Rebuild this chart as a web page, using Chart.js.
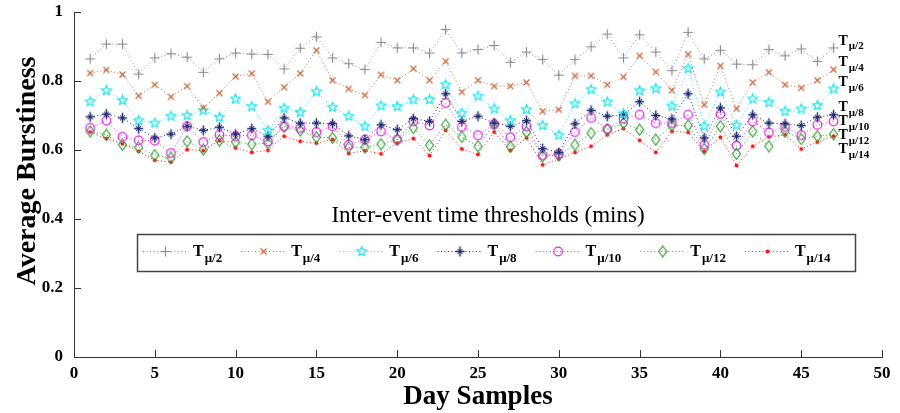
<!DOCTYPE html>
<html>
<head>
<meta charset="utf-8">
<title>Average Burstiness</title>
<script src="https://cdn.jsdelivr.net/npm/chart.js@4.4.1/dist/chart.umd.min.js"></script>
<style>
  html, body { margin: 0; padding: 0; background: #fff; }
</style>
</head>
<body>
<canvas id="chart" width="900" height="413"></canvas>
<script>
// day samples on the x axis
var days = [1, 2, 3, 4, 5, 6, 7, 8, 9, 10, 11, 12, 13, 14, 15, 16, 17, 18, 19, 20,
  21, 22, 23, 24, 25, 26, 27, 28, 29, 30, 31, 32, 33, 34, 35, 36, 37, 38, 39, 40,
  41, 42, 43, 44, 45, 46, 47];

// subscripts of the thresholds T
var thresholds = ['\u03bc/2', '\u03bc/4', '\u03bc/6', '\u03bc/8', '\u03bc/10', '\u03bc/12', '\u03bc/14'];

var tMu2 = [0.864, 0.907, 0.907, 0.820, 0.867, 0.879, 0.869, 0.825, 0.864, 0.881, 0.878, 0.877, 0.835, 0.895, 0.928, 0.867,
  0.850, 0.833, 0.912, 0.896, 0.896, 0.881, 0.949, 0.881, 0.891, 0.903, 0.854, 0.884, 0.862, 0.817, 0.862, 0.899,
  0.936, 0.867, 0.934, 0.884, 0.830, 0.941, 0.864, 0.889, 0.849, 0.847, 0.891, 0.873, 0.893, 0.857, 0.896];
var tMu4 = [0.823, 0.832, 0.819, 0.757, 0.789, 0.754, 0.785, 0.722, 0.765, 0.813, 0.822, 0.740, 0.782, 0.822, 0.889, 0.802,
  0.777, 0.759, 0.818, 0.802, 0.836, 0.802, 0.857, 0.768, 0.802, 0.785, 0.785, 0.796, 0.712, 0.717, 0.815, 0.815,
  0.789, 0.812, 0.873, 0.826, 0.773, 0.878, 0.731, 0.844, 0.720, 0.796, 0.825, 0.789, 0.780, 0.802, 0.833];
var tMu6 = [0.740, 0.772, 0.744, 0.685, 0.678, 0.698, 0.700, 0.715, 0.695, 0.748, 0.726, 0.656, 0.721, 0.709, 0.769, 0.724,
  0.698, 0.669, 0.728, 0.726, 0.746, 0.746, 0.789, 0.707, 0.756, 0.719, 0.685, 0.717, 0.671, 0.643, 0.734, 0.775,
  0.739, 0.705, 0.772, 0.778, 0.727, 0.836, 0.669, 0.768, 0.672, 0.748, 0.738, 0.712, 0.719, 0.729, 0.777];
var tMu8 = [0.696, 0.704, 0.693, 0.662, 0.635, 0.646, 0.669, 0.657, 0.666, 0.646, 0.662, 0.640, 0.693, 0.678, 0.678, 0.676,
  0.641, 0.630, 0.673, 0.659, 0.691, 0.683, 0.763, 0.683, 0.698, 0.678, 0.669, 0.685, 0.604, 0.593, 0.676, 0.715,
  0.698, 0.702, 0.740, 0.700, 0.690, 0.763, 0.635, 0.722, 0.640, 0.702, 0.678, 0.676, 0.671, 0.695, 0.702];
var tMu10 = [0.664, 0.685, 0.638, 0.628, 0.627, 0.591, 0.669, 0.623, 0.644, 0.640, 0.643, 0.625, 0.669, 0.664, 0.652, 0.669,
  0.615, 0.630, 0.654, 0.630, 0.683, 0.671, 0.736, 0.667, 0.643, 0.675, 0.637, 0.669, 0.585, 0.589, 0.652, 0.693,
  0.661, 0.691, 0.702, 0.678, 0.678, 0.702, 0.615, 0.704, 0.613, 0.683, 0.651, 0.667, 0.643, 0.673, 0.683];
var tMu12 = [0.654, 0.644, 0.615, 0.608, 0.585, 0.577, 0.625, 0.601, 0.627, 0.623, 0.617, 0.620, 0.667, 0.657, 0.637, 0.635,
  0.608, 0.608, 0.617, 0.630, 0.664, 0.614, 0.673, 0.638, 0.611, 0.675, 0.609, 0.652, 0.582, 0.585, 0.615, 0.649,
  0.659, 0.678, 0.659, 0.630, 0.671, 0.671, 0.603, 0.669, 0.589, 0.654, 0.611, 0.654, 0.632, 0.640, 0.646];
var tMu14 = [0.652, 0.633, 0.618, 0.596, 0.570, 0.565, 0.601, 0.598, 0.627, 0.606, 0.593, 0.599, 0.640, 0.625, 0.620, 0.630,
  0.590, 0.598, 0.589, 0.620, 0.633, 0.584, 0.657, 0.603, 0.587, 0.652, 0.599, 0.635, 0.557, 0.574, 0.593, 0.611,
  0.644, 0.662, 0.628, 0.593, 0.654, 0.651, 0.596, 0.637, 0.555, 0.611, 0.638, 0.644, 0.603, 0.623, 0.640];

var xTicks = [0, 5, 10, 15, 20, 25, 30, 35, 40, 45, 50];
var yTicks = [0, 0.2, 0.4, 0.6, 0.8, 1];

var series = [tMu2, tMu4, tMu6, tMu8, tMu10, tMu12, tMu14];
var colors = ['#8c8c8c', '#c8693e', '#1ee8f0', '#1f2c6e', '#e022e0', '#35a035', '#ff1414'];
var serif = '"Liberation Serif", "Times New Roman", serif';

// marker images, like matlab's + x p * o d .
function markerCanvas(kind, color) {
  var c = document.createElement('canvas');
  c.width = 13; c.height = 13;
  var g = c.getContext('2d');
  g.strokeStyle = color; g.fillStyle = color; g.lineWidth = 1.2;
  g.translate(6.5, 6.5);
  g.beginPath();
  if (kind === 'plus') {
    g.moveTo(-5, 0); g.lineTo(5, 0); g.moveTo(0, -5); g.lineTo(0, 5);
    g.stroke();
  } else if (kind === 'x') {
    g.moveTo(-3, -3); g.lineTo(3, 3); g.moveTo(3, -3); g.lineTo(-3, 3);
    g.stroke();
  } else if (kind === 'pent') {
    for (var i = 0; i < 10; i++) {
      var r = i % 2 ? 2.2 : 5;
      var a = -Math.PI / 2 + i * Math.PI / 5;
      if (i === 0) g.moveTo(r * Math.cos(a), r * Math.sin(a));
      else g.lineTo(r * Math.cos(a), r * Math.sin(a));
    }
    g.closePath();
    g.stroke();
  } else if (kind === 'star') {
    g.lineWidth = 1.5;
    g.moveTo(-4.5, 0); g.lineTo(4.5, 0); g.moveTo(0, -5); g.lineTo(0, 5);
    g.stroke();
    g.beginPath();
    g.lineWidth = 1;
    g.moveTo(-2.5, -2.5); g.lineTo(2.5, 2.5); g.moveTo(2.5, -2.5); g.lineTo(-2.5, 2.5);
    g.stroke();
  } else if (kind === 'circle') {
    g.arc(0, 0, 4.3, 0, Math.PI * 2);
    g.stroke();
  } else if (kind === 'diamond') {
    g.moveTo(0, -5.5); g.lineTo(4, 0); g.lineTo(0, 5.5); g.lineTo(-4, 0);
    g.closePath();
    g.stroke();
  } else {
    g.arc(0, 0, 2, 0, Math.PI * 2);
    g.fill();
  }
  return c;
}

var kinds = ['plus', 'x', 'pent', 'star', 'circle', 'diamond', 'dot'];
var markers = kinds.map(function (k, i) { return markerCanvas(k, colors[i]); });

var datasets = series.map(function (vals, k) {
  return {
    label: 'T' + thresholds[k],
    data: days.map(function (d, i) { return { x: d, y: vals[i] }; }),
    borderColor: colors[k],
    backgroundColor: colors[k],
    borderWidth: 1,
    borderDash: [1, 2.5],
    pointStyle: markers[k],
    pointRadius: 4,
    tension: 0
  };
});

// T with a subscript
function drawT(ctx, x, yMid, sub, big, small) {
  ctx.textAlign = 'left';
  ctx.textBaseline = 'alphabetic';
  ctx.fillStyle = '#000';
  ctx.font = 'bold ' + big + 'px ' + serif;
  ctx.fillText('T', x, yMid + big * 0.33);
  var w = ctx.measureText('T').width;
  ctx.font = 'bold ' + small + 'px ' + serif;
  ctx.fillText(sub, x + w + 1, yMid + big * 0.33 + small * 0.45);
  return w + 1 + ctx.measureText(sub).width;
}

var extras = {
  id: 'extras',
  afterDraw: function (chart) {
    var ctx = chart.ctx;
    var xs = chart.scales.x, ys = chart.scales.y;
    var area = chart.chartArea;
    ctx.save();

    // inward tick marks
    ctx.strokeStyle = '#333';
    ctx.lineWidth = 1;
    ctx.beginPath();
    xTicks.forEach(function (v) {
      var px = Math.round(xs.getPixelForValue(v)) + 0.5;
      ctx.moveTo(px, area.bottom); ctx.lineTo(px, area.bottom - 7);
    });
    yTicks.forEach(function (v) {
      var py = Math.round(ys.getPixelForValue(v)) + 0.5;
      ctx.moveTo(area.left, py); ctx.lineTo(area.left + 7, py);
    });
    ctx.stroke();

    // y axis title, sits a bit above the middle like the original
    ctx.save();
    ctx.translate(28, 171);
    ctx.rotate(-Math.PI / 2);
    ctx.font = 'bold 28px ' + serif;
    ctx.fillStyle = '#000';
    ctx.textAlign = 'center';
    ctx.textBaseline = 'middle';
    ctx.fillText('Average Burstiness', 0, 0);
    ctx.restore();

    // labels at the end of each line
    var prev = -100;
    datasets.forEach(function (ds, k) {
      var last = ds.data[ds.data.length - 1];
      var px = xs.getPixelForValue(last.x) + 5;
      var py = Math.max(ys.getPixelForValue(last.y) - 8, prev + 14);
      prev = py;
      drawT(ctx, px, py, thresholds[k], 14, 11);
    });

    // legend with its heading
    ctx.font = '23px ' + serif;
    ctx.fillStyle = '#000';
    ctx.textAlign = 'center';
    ctx.textBaseline = 'middle';
    ctx.fillText('Inter-event time thresholds (mins)', 488, 216);

    ctx.strokeStyle = '#444';
    ctx.lineWidth = 1.5;
    ctx.strokeRect(137.5, 234.5, 718, 37);

    var x = 143, y = 251;
    datasets.forEach(function (ds, k) {
      ctx.strokeStyle = colors[k];
      ctx.lineWidth = 1;
      ctx.setLineDash([1, 2.5]);
      ctx.beginPath();
      ctx.moveTo(x, y + 0.5); ctx.lineTo(x + 45, y + 0.5);
      ctx.stroke();
      ctx.setLineDash([]);
      ctx.drawImage(markers[k], x + 22.5 - 6.5, y - 6);
      var w = drawT(ctx, x + 50, y, thresholds[k], 16, 13);
      x += 50 + w + 19;
    });
    ctx.restore();
  }
};

new Chart(document.getElementById('chart'), {
  type: 'line',
  data: { datasets: datasets },
  plugins: [extras],
  options: {
    responsive: false,
    animation: false,
    devicePixelRatio: 1,
    layout: { padding: { top: 12, right: 18, left: 0, bottom: 0 } },
    plugins: { legend: { display: false }, tooltip: { enabled: false } },
    scales: {
      x: {
        type: 'linear',
        min: 0, max: 50,
        afterFit: function (s) { s.height = 56; s.paddingLeft = 0; s.paddingRight = 0; },
        afterBuildTicks: function (s) { s.ticks = xTicks.map(function (v) { return { value: v }; }); },
        grid: { display: false, drawTicks: false },
        border: { display: true, color: '#333', width: 1 },
        ticks: { padding: 6, color: '#000', font: { family: serif, size: 17, weight: 'bold' } },
        title: { display: true, text: 'Day Samples', color: '#000', padding: 0,
          font: { family: serif, size: 27, weight: 'bold' } }
      },
      y: {
        min: 0, max: 1,
        afterFit: function (s) { s.width = 74; s.paddingTop = 0; s.paddingBottom = 0; },
        afterBuildTicks: function (s) { s.ticks = yTicks.map(function (v) { return { value: v }; }); },
        grid: { display: false, drawTicks: false },
        border: { display: true, color: '#333', width: 1 },
        ticks: {
          padding: 11, color: '#000', font: { family: serif, size: 17, weight: 'bold' },
          callback: function (v) { return String(+v.toFixed(1)); }
        },
        title: { display: false, text: 'Average Burstiness' }
      }
    }
  }
});
</script>
</body>
</html>
